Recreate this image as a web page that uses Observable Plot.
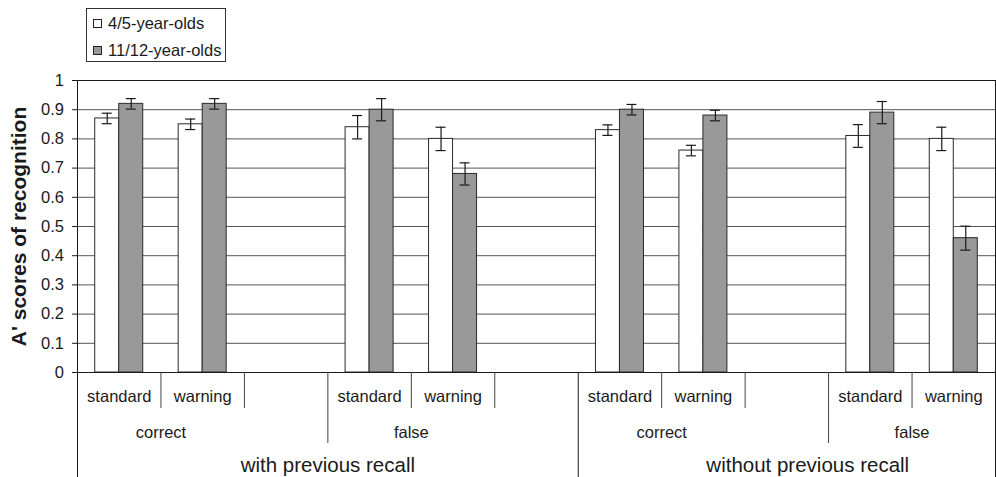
<!DOCTYPE html>
<html>
<head>
<meta charset="utf-8">
<script src="https://cdn.jsdelivr.net/npm/d3@7"></script>
<script src="https://cdn.jsdelivr.net/npm/@observablehq/plot@0.6"></script>
<style>
  html, body { margin: 0; padding: 0; background: white; }
  body { width: 996px; height: 477px; overflow: hidden; font-family: "Liberation Sans", Arial, sans-serif; color: #1a1a1a; }
  #legend { position: relative; height: 70px; }
  #legend .box { position: absolute; left: 86px; top: 8px; width: 140px; height: 54px; border: 1px solid #333; box-sizing: border-box; }
  #legend .row { position: absolute; left: 6px; height: 20px; display: flex; align-items: center; font-size: 16.5px; white-space: nowrap; }
  #legend .sw { width: 7px; height: 7px; border: 1px solid #222; margin-right: 6px; }
  #chart svg { display: block; }
</style>
</head>
<body>
<div id="legend"><div class="box"></div></div>
<div id="chart"></div>
<script>
// ---- data ----
const groups = ["with previous recall", "without previous recall"];
const types = ["correct", "false"];
const conditions = ["standard", "warning"];
const ages = ["4/5-year-olds", "11/12-year-olds"];
// order: group > type > condition
const youngMeans = [0.87, 0.85, 0.84, 0.80, 0.83, 0.76, 0.81, 0.80];
const youngErrors = [0.018, 0.018, 0.040, 0.040, 0.018, 0.018, 0.039, 0.040];
const olderMeans = [0.92, 0.92, 0.90, 0.68, 0.90, 0.88, 0.89, 0.46];
const olderErrors = [0.018, 0.018, 0.038, 0.038, 0.018, 0.018, 0.038, 0.041];
const yTicks = [0, 0.1, 0.2, 0.3, 0.4, 0.5, 0.6, 0.7, 0.8, 0.9, 1];
const yTitle = "A' scores of recognition";
const colors = ["#ffffff", "#999999"];

// ---- layout of category slots (standard, warning, empty gap per type) ----
const slotsPerType = conditions.length + 1;
const slotsPerGroup = types.length * slotsPerType;
const nSlots = groups.length * slotsPerGroup - 1;
const barFrac = 0.2876;   // bar width as fraction of slot
const capHalf = 0.06;     // error cap half-width (slot units)

const rows = [];
const condLabels = [];
let k = 0;
groups.forEach((g, gi) => types.forEach((t, ti) => conditions.forEach((c, ci) => {
  const slot = gi * slotsPerGroup + ti * slotsPerType + ci;
  condLabels.push({slot, text: c});
  [[youngMeans, youngErrors], [olderMeans, olderErrors]].forEach(([m, e], ai) => {
    rows.push({group: g, type: t, condition: c, age: ages[ai], ai, slot, value: m[k], err: e[k]});
  });
  k++;
})));
const typeLabels = [];
groups.forEach((g, gi) => types.forEach((t, ti) => {
  typeLabels.push({x: gi * slotsPerGroup + ti * slotsPerType + conditions.length / 2, text: t});
}));
const groupLabels = groups.map((g, gi) => {
  const start = gi * slotsPerGroup;
  const end = Math.min(start + slotsPerGroup, nSlots + 0.5);
  return {x: (start + end) / 2, text: g};
});
const bounds = d3.range(nSlots + 1).map(b => ({
  b, level: (b % slotsPerGroup === 0 || b === nSlots) ? 3 : (b % slotsPerType === 0 ? 2 : 1)
}));

const barX1 = d => d.slot + 0.5 + (d.ai - 1) * barFrac;
const barX2 = d => d.slot + 0.5 + d.ai * barFrac;
const barC = d => d.slot + 0.5 + (d.ai - 0.5) * barFrac;

const chart = Plot.plot({
  width: 996,
  height: 407,
  marginTop: 10,
  marginBottom: 105,
  marginLeft: 77,
  marginRight: 1,
  style: {fontFamily: "'Liberation Sans', Arial, sans-serif", fontSize: "16.5px", color: "#1a1a1a", background: "white"},
  x: {domain: [0, nSlots], axis: null},
  y: {domain: [0, 1], ticks: yTicks, tickSize: 5, tickPadding: 8.5, tickFormat: d => String(d), label: null},
  color: {domain: ages, range: colors},
  marks: [
    Plot.ruleY(yTicks, {stroke: "#555", strokeWidth: 1}),
    Plot.rect(rows, {x1: barX1, x2: barX2, y1: 0, y2: "value", fill: "age", stroke: "#2a2a2a", strokeWidth: 1}),
    Plot.ruleX(rows, {x: barC, y1: d => d.value - d.err, y2: d => d.value + d.err, stroke: "#1a1a1a", strokeWidth: 1.2}),
    Plot.ruleY(rows, {x1: d => barC(d) - capHalf, x2: d => barC(d) + capHalf, y: d => d.value + d.err, stroke: "#1a1a1a", strokeWidth: 1.2}),
    Plot.ruleY(rows, {x1: d => barC(d) - capHalf, x2: d => barC(d) + capHalf, y: d => d.value - d.err, stroke: "#1a1a1a", strokeWidth: 1.2}),
    Plot.frame({stroke: "#1a1a1a"}),
    Plot.ruleX(bounds.filter(d => d.level === 1), {x: "b", y1: 0, y2: 0, insetBottom: -36, stroke: "#444"}),
    Plot.ruleX(bounds.filter(d => d.level === 2), {x: "b", y1: 0, y2: 0, insetBottom: -71, stroke: "#444"}),
    Plot.ruleX(bounds.filter(d => d.level === 3), {x: "b", y1: 0, y2: 0, insetBottom: -106, stroke: "#1a1a1a"}),
    Plot.text(condLabels, {x: d => d.slot + 0.5, frameAnchor: "bottom", lineAnchor: "middle", dy: 24, text: "text", fontSize: 16.5, fill: "#1a1a1a"}),
    Plot.text(typeLabels, {x: "x", frameAnchor: "bottom", lineAnchor: "middle", dy: 60, text: "text", fontSize: 16.5, fill: "#1a1a1a"}),
    Plot.text(groupLabels, {x: "x", frameAnchor: "bottom", lineAnchor: "middle", dy: 93, text: "text", fontSize: 20.5, fill: "#1a1a1a"}),
    Plot.text([yTitle], {frameAnchor: "left", textAnchor: "middle", lineAnchor: "middle", rotate: -90, dx: -58, text: d => d, fontSize: 21, fontWeight: "bold", fill: "#1a1a1a"})
  ]
});
document.getElementById("chart").appendChild(chart);

// legend built from ages and colors
const box = document.querySelector("#legend .box");
ages.forEach((a, i) => {
  const row = document.createElement("div");
  row.className = "row";
  row.style.top = (4 + i * 27) + "px";
  const sw = document.createElement("span");
  sw.className = "sw";
  sw.style.background = colors[i];
  row.appendChild(sw);
  row.appendChild(document.createTextNode(a));
  box.appendChild(row);
});
</script>
</body>
</html>
